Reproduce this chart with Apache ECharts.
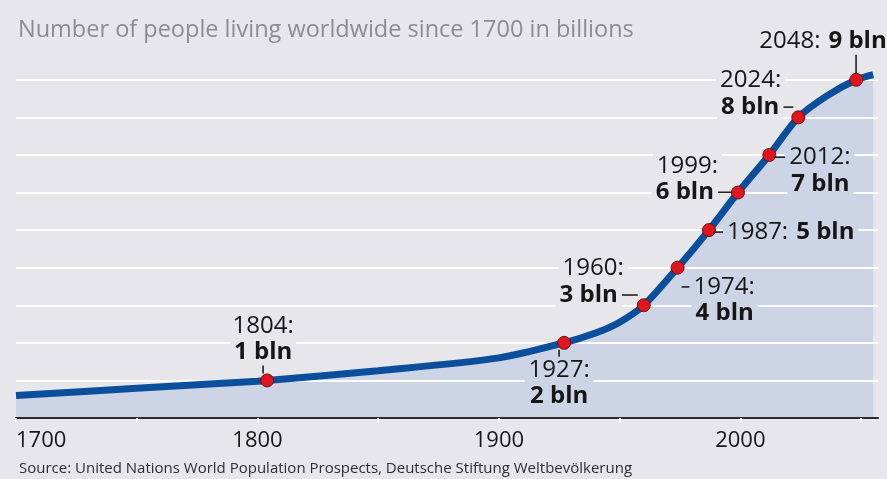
<!DOCTYPE html>
<html>
<head>
<meta charset="utf-8">
<script src="https://cdn.jsdelivr.net/npm/echarts@6/dist/echarts.min.js"></script>
<style>
  html, body { margin: 0; padding: 0; background: #e7e7eb; }
  #chart { width: 887px; height: 479px; }
</style>
</head>
<body>
<div id="chart"></div>
<script>
// World population, billions
const curveYears = [1700, 1750, 1800, 1804, 1850, 1900, 1927, 1940, 1950, 1960, 1974, 1987, 1999, 2012, 2024, 2036, 2048, 2055];
const curvePop   = [0.60, 0.79, 0.98, 1.00, 1.26, 1.60, 2.00, 2.26, 2.55, 3.00, 4.00, 5.00, 6.00, 7.00, 8.00, 8.58, 9.00, 9.14];

// Years in which each further billion was (or will be) reached
const milestoneYears = [1804, 1927, 1960, 1974, 1987, 1999, 2012, 2024, 2048];
const milestonePop   = [1, 2, 3, 4, 5, 6, 7, 8, 9];

const labeledYears = [1700, 1800, 1900, 2000];

const titleText  = 'Number of people living worldwide since 1700 in billions';
const sourceText = 'Source: United Nations World Population Prospects, Deutsche Stiftung Weltbevölkerung';

const BG = '#e7e7eb';
const AREA = '#cdd4e6';
const LINE = '#0b4f9c';
const INK = '#161616';
const FONT = '"Open Sans", "Noto Sans", sans-serif';

// Callout layout per milestone: text template, anchoring and leader sizes
const callouts = {
  1804: { tpl: '{y|%Y:}\n{v|%V bln}\n{tk|}', align: 'center', va: 'bottom', off: [-4, -7], bg: BG, tk: 8 },
  1927: { tpl: '{tk|}\n{y|%Y:}\n{v|%V bln}', align: 'center', va: 'top', off: [-5, 7], bg: AREA, tk: 7 },
  1960: { tpl: '{y|%Y:}{sp|}\n{v|%V bln}{d|}', align: 'right', va: 'bottom', off: [-6, 3], bg: BG, d: 16, sp: 10 },
  1974: { tpl: '{d|}{y|%Y:}\n{sp|}{v|%V bln}', align: 'left', va: 'top', off: [4, 6], bg: AREA, d: 8, sp: 10 },
  1987: { tpl: '{d|}{y|%Y:}{v|%V bln}', align: 'left', va: 'middle', off: [4, 2], bg: AREA, d: 10 },
  1999: { tpl: '{y|%Y:}{sp|}\n{v|%V bln}{d|}', align: 'right', va: 'bottom', off: [-6, 13], bg: BG, d: 14, sp: 10 },
  2012: { tpl: '{d|}{y|%Y:}\n{sp|}{v|%V bln}', align: 'left', va: 'top', off: [4, -11], bg: AREA, d: 12, sp: 14 },
  2024: { tpl: '{y|%Y:}{sp|}\n{v|%V bln}{d|}', align: 'right', va: 'bottom', off: [-5, 3], bg: BG, d: 10, sp: 8 },
  2048: { tpl: '{y|%Y:}{v|%V bln}\n{sp|}{tk|}', align: 'left', va: 'bottom', off: [-101, -6], bg: BG, tk: 19, sp: 100 }
};

function richFor(c) {
  const text = { fontFamily: FONT, fontSize: 24, color: INK, lineHeight: 26.5, backgroundColor: c.bg, padding: [0, 4],
                 textBorderWidth: 0 };
  return {
    y:  Object.assign({}, text, { fontWeight: 'normal' }),
    v:  Object.assign({}, text, { fontWeight: 'bold' }),
    tk: { width: 1.6, height: c.tk || 10, backgroundColor: '#222222' },
    d:  { width: c.d || 10, height: 1.6, backgroundColor: '#222222', verticalAlign: 'middle' },
    sp: { width: c.sp || 0, height: 2 }
  };
}

const milestoneData = milestoneYears.map((yr, i) => {
  const c = callouts[yr];
  return {
    value: [yr, milestonePop[i]],
    label: {
      show: true,
      position: ['50%', '50%'],
      align: c.align,
      verticalAlign: c.va,
      offset: c.off,
      color: INK,
      textBorderWidth: 0,
      formatter: c.tpl.replace('%Y', yr).replace('%V', milestonePop[i]),
      rich: richFor(c)
    }
  };
});

const curveData = curveYears.map((yr, i) => [yr, curvePop[i]]);

const chart = echarts.init(document.getElementById('chart'), null, { renderer: 'canvas' });
chart.setOption({
  backgroundColor: BG,
  animation: false,
  title: [
    { text: titleText, left: 13, top: 13,
      textStyle: { fontFamily: FONT, fontSize: 23.5, fontWeight: 'normal', color: '#8b8b90' } },
    { text: sourceText, left: 14, top: 456,
      textStyle: { fontFamily: FONT, fontSize: 15, fontWeight: 'normal', color: '#2e2e2e' } }
  ],
  grid: { left: 16, right: 9, top: 61, bottom: 61 },
  xAxis: {
    type: 'value', min: 1700, max: 2057, interval: 50, z: 5,
    axisLine: { lineStyle: { color: '#2a2a2a', width: 2 } },
    axisTick: { show: true, length: 4, lineStyle: { color: '#ffffff', width: 2 } },
    splitLine: { show: false },
    axisLabel: {
      fontFamily: FONT, fontSize: 22, color: INK, margin: 12,
      alignMinLabel: 'left', showMaxLabel: false,
      formatter: v => labeledYears.includes(v) ? String(v) : ''
    }
  },
  yAxis: {
    type: 'value', min: 0, max: 9.5, interval: 1, z: 2,
    axisLine: { show: false }, axisTick: { show: false }, axisLabel: { show: false },
    splitLine: { show: true, showMinLine: false, showMaxLine: false, lineStyle: { color: '#ffffff', width: 2 } }
  },
  series: [
    { // filled area under the curve
      type: 'line', z: 1, data: curveData, smooth: 0.3,
      showSymbol: false, lineStyle: { width: 0, opacity: 0 },
      areaStyle: { color: AREA, opacity: 1 }, silent: true
    },
    { // population curve
      type: 'line', z: 3, data: curveData, smooth: 0.3,
      showSymbol: false, lineStyle: { width: 7, color: LINE, cap: 'butt' }, silent: true
    },
    { // milestone markers with callouts
      type: 'scatter', z: 4, data: milestoneData, symbolSize: 13,
      itemStyle: { color: '#e0161f', borderColor: '#701010', borderWidth: 1, opacity: 1 }
    }
  ]
});
</script>
</body>
</html>
